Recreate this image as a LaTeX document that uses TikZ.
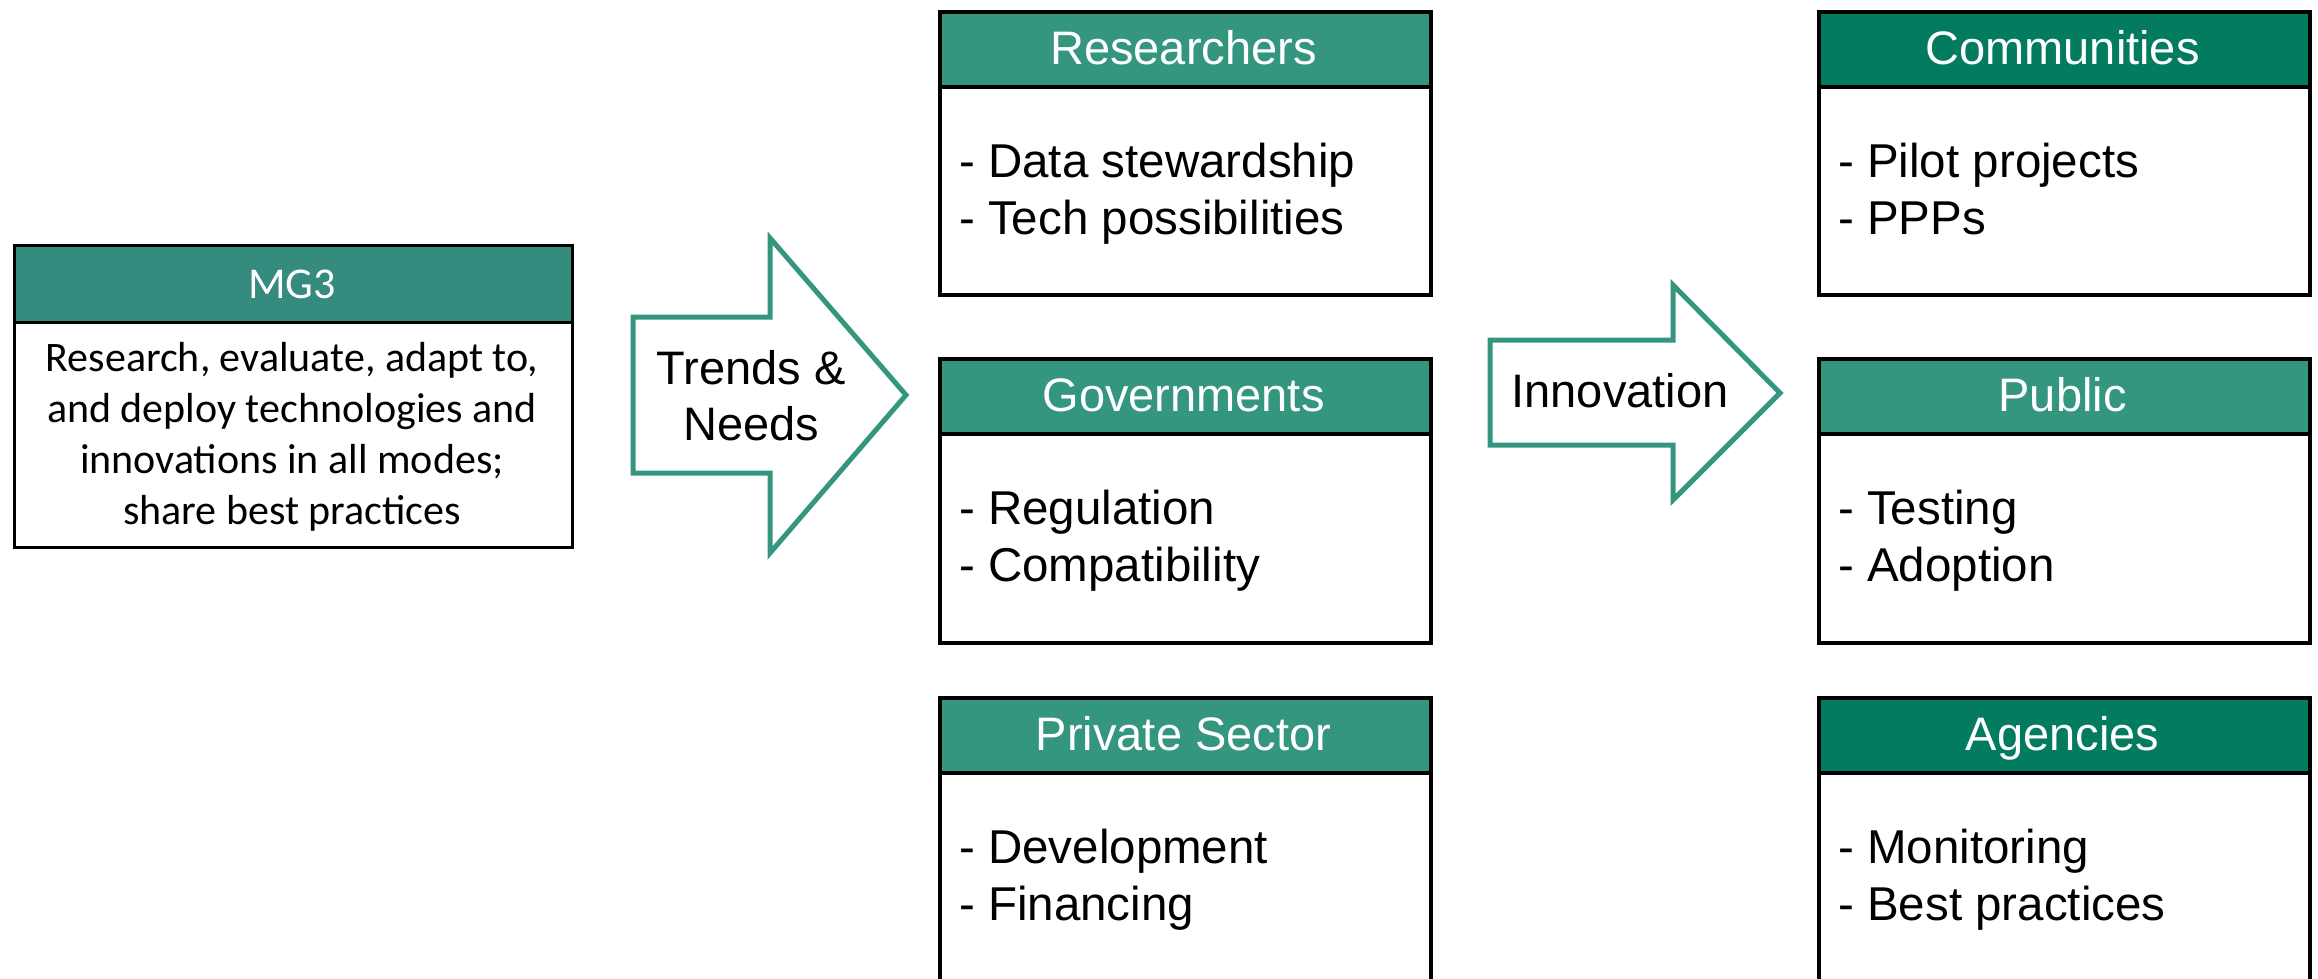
\documentclass[tikz,border=0pt]{standalone}
\usepackage{fontspec}
\setmainfont{Liberation Sans}
\newfontfamily\calfont{Carlito}
\definecolor{tealA}{RGB}{53,150,128}
\definecolor{tealM}{RGB}{53,140,126}
\definecolor{greenD}{RGB}{2,123,95}
\tikzset{
  cardbody/.style={draw=black, line width=4pt, fill=white, minimum width=491pt, inner sep=0pt, anchor=north west},
  cardhead/.style={draw=black, line width=4pt, minimum width=491pt, minimum height=75pt, inner sep=0pt, anchor=north west},
  headtxt/.style={text=white, font=\fontsize{47}{56}\selectfont, anchor=base, inner sep=0pt},
  bodytxt/.style={text=black, font=\fontsize{47.5}{57}\selectfont, anchor=base west, inner sep=0pt},
  arrowtxt/.style={text=black, font=\fontsize{47}{56}\selectfont, anchor=base, inner sep=0pt},
  blockarrow/.style={draw=tealA, line width=5pt, fill=white, line join=miter},
  mgtxt/.style={text=black, font=\calfont\fontsize{42}{51}\selectfont, anchor=base, inner sep=0pt},
}
\newcommand\card[8]{%
  \node[cardbody, minimum height=#8pt] (#1) at (#2,#3) {};
  \node[cardhead, fill=#4] (#1h) at (#2,#3) {};
  \node[headtxt] (#1t) at (#2+245.5,#3+54.5) {#5};
  \node[bodytxt] (#1a) at (#2+21,#3+167) {#6};
  \node[bodytxt] (#1b) at (#2+21,#3+224) {#7};
}
\begin{document}
\begin{tikzpicture}[x=1pt,y=-1pt]
\useasboundingbox (0,0) rectangle (2318,978);
\clip (0,0) rectangle (2318,978);
% MG3 box
\node[draw=black, line width=2.5pt, fill=white, minimum width=558pt, minimum height=302pt, inner sep=0pt, anchor=north west] (mg) at (13,244) {};
\node[draw=black, line width=2.5pt, fill=tealM, minimum width=558pt, minimum height=77pt, inner sep=0pt, anchor=north west] (mgh) at (13,244) {};
\node[mgtxt, text=white, font=\calfont\fontsize{44}{51}\selectfont] (mgt) at (292,298) {MG3};
\node[mgtxt] (mg1) at (292,371) {Research, evaluate, adapt to,};
\node[mgtxt] (mg2) at (292,422) {and deploy technologies and};
\node[mgtxt] (mg3) at (292,473) {innovations in all modes;};
\node[mgtxt] (mg4) at (292,524) {share best practices};
% Trends & Needs arrow
\draw[blockarrow] (633,317) -- (770,317) -- (770,238) -- (906,395) -- (770,553) -- (770,473) -- (633,473) -- cycle;
\node[arrowtxt] (tn1) at (751,384) {Trends \&};
\node[arrowtxt] (tn2) at (751,440) {Needs};
% Innovation arrow
\draw[blockarrow] (1490,340) -- (1673,340) -- (1673,285) -- (1780,393) -- (1673,500) -- (1673,445) -- (1490,445) -- cycle;
\node[arrowtxt] (inn) at (1620,407) {Innovation};
% cards
\card{res}{938}{10}{tealA}{Researchers}{- Data stewardship}{- Tech possibilities}{283}
\card{gov}{938}{357}{tealA}{Governments}{- Regulation}{- Compatibility}{284}
\card{pri}{938}{696}{tealA}{Private Sector}{- Development}{- Financing}{300}
\card{com}{1817}{10}{greenD}{Communities}{- Pilot projects}{- PPPs}{283}
\card{pub}{1817}{357}{tealA}{Public}{- Testing}{- Adoption}{284}
\card{age}{1817}{696}{greenD}{Agencies}{- Monitoring}{- Best practices}{300}
\end{tikzpicture}
\end{document}
